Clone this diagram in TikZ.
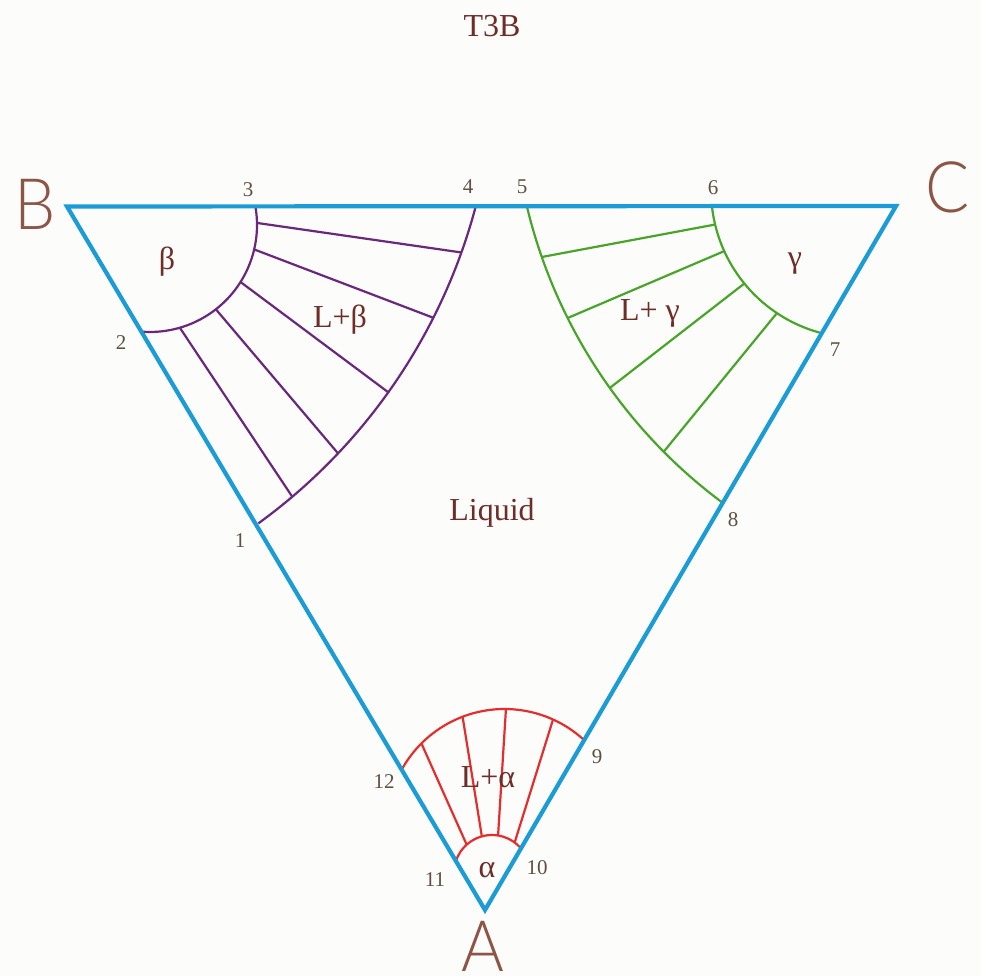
\documentclass[tikz,border=0pt]{standalone}
\usepackage{fontspec}
\setmainfont{Liberation Serif}
\newfontfamily\vertfont{Lato Light}
\usetikzlibrary{calc}
\definecolor{triblue}{RGB}{28,156,214}
\definecolor{bpurple}{RGB}{105,40,125}
\definecolor{ggreen}{RGB}{72,165,42}
\definecolor{ared}{RGB}{228,45,45}
\definecolor{labtxt}{RGB}{110,45,40}
\definecolor{numtxt}{RGB}{95,80,70}
\definecolor{vertxt}{RGB}{140,85,70}
\definecolor{paper}{RGB}{252,252,250}
\begin{document}
\begin{tikzpicture}[x=1pt,y=1pt,
  tri/.style={draw=triblue,line width=4.2pt,line join=miter},
  pb/.style={draw=bpurple,line width=2.2pt},
  pg/.style={draw=ggreen,line width=2.2pt},
  pa/.style={draw=ared,line width=2.2pt},
  num/.style={text=numtxt,font=\fontsize{21}{21}\selectfont,inner sep=0pt},
  lab/.style={text=labtxt,font=\fontsize{32}{32}\selectfont,inner sep=0pt},
  vert/.style={text=vertxt,font=\vertfont\fontsize{71}{71}\selectfont,inner sep=0pt,anchor=base,xscale=0.92,text depth=0pt,text height=51pt},
]
\fill[paper] (0,0) rectangle (981,976);
\useasboundingbox (0,0) rectangle (981,976);

% centres of the curves
\coordinate (cbi) at (150,751);   % beta solidus
\coordinate (cbo) at (-79,917);   % beta liquidus
\coordinate (cgi) at (859,786);   % gamma solidus
\coordinate (cgo) at (1033,891);  % gamma liquidus
\coordinate (cao) at (504.5,149.5); % alpha liquidus
\coordinate (cai) at (492,103);   % alpha solidus

% vertices
\coordinate (B) at (67,769.5);
\coordinate (C) at (896,770);
\coordinate (A) at (485,66);

% numbered points
\coordinate (p1) at ($(cbo)+(-54:574pt)$);
\coordinate (p2) at ($(cbi)+(-93.7:107pt)$);
\coordinate (p3) at ($(cbi)+(9.4:107pt)$);
\coordinate (p4) at ($(cbo)+(-15.05:574pt)$);
\coordinate (p5) at ($(cgo)+(193.6:520.5pt)$);
\coordinate (p6) at ($(cgi)+(186.6:148pt)$);
\coordinate (p7) at ($(cgi)+(254.6:148pt)$);
\coordinate (p8) at ($(cgo)+(233.3:520.5pt)$);
\coordinate (p9) at ($(cao)+(47.4:117.5pt)$);
\coordinate (p10) at ($(cai)+(40.8:38pt)$);
\coordinate (p11) at ($(cai)+(163:38pt)$);
\coordinate (p12) at ($(cao)+(150.7:117.5pt)$);

% beta region
\draw[pb] (p3) arc[start angle=9.4,end angle=-93.7,radius=107pt];
\draw[pb] (p4) arc[start angle=-15.05,end angle=-54,radius=574pt];
\foreach \i/\o in {1.1/-19.7,-13.2/-26.8,-32.2/-35.5,-52/-43.4,-73.8/-49.7}
  \draw[pb] ($(cbi)+(\i:107pt)$) -- ($(cbo)+(\o:574pt)$);

% gamma region
\draw[pg] (p6) arc[start angle=186.6,end angle=254.6,radius=148pt];
\draw[pg] (p5) arc[start angle=193.6,end angle=233.3,radius=520.5pt];
\foreach \i/\o in {193.5/199.3,204.4/206.6,219.2/215.6,236.3/224.8}
  \draw[pg] ($(cgi)+(\i:148pt)$) -- ($(cgo)+(\o:520.5pt)$);

% alpha region
\draw[pa] (p12) arc[start angle=150.7,end angle=47.4,radius=117.5pt];
\draw[pa] (p11) arc[start angle=163,end angle=40.8,radius=38pt];
\foreach \i/\o in {131.8/135,105.5/110.9,80.8/89.3,53.4/65.6}
  \draw[pa] ($(cai)+(\i:38pt)$) -- ($(cao)+(\o:117.5pt)$);

% triangle
\draw[tri] (B) -- (C) -- (A) -- cycle;

% vertex letters
\node[vert] (lB) at (35,746) {B};
\node[vert] (lC) at (948,763) {C};
\node[vert] (lA) at (483,5) {A};

% title and region labels
\node[lab] (title) at (492,950) {T3B};
\node[lab] (liq) at (492,463) {Liquid};
\node[lab] (beta) at (167,714) {β};
\node[lab] (lbeta) at (340,656) {L+β};
\node[lab] (gam) at (795,712) {γ};
\node[lab] (lgam) at (650,663) {L+ γ};
\node[lab] (lalp) at (488,199) {L+α};
\node[lab] (alp) at (487,106) {α};

% numbers
\node[num] (n1) at (240,435) {1};
\node[num] (n2) at (121,633) {2};
\node[num] (n3) at (248,786) {3};
\node[num] (n4) at (468,789) {4};
\node[num] (n5) at (522,789) {5};
\node[num] (n6) at (713,788) {6};
\node[num] (n7) at (835,626) {7};
\node[num] (n8) at (733,456) {8};
\node[num] (n9) at (597,219) {9};
\node[num] (n10) at (537,108) {10};
\node[num] (n11) at (435,96) {11};
\node[num] (n12) at (384,194) {12};
\end{tikzpicture}
\end{document}
